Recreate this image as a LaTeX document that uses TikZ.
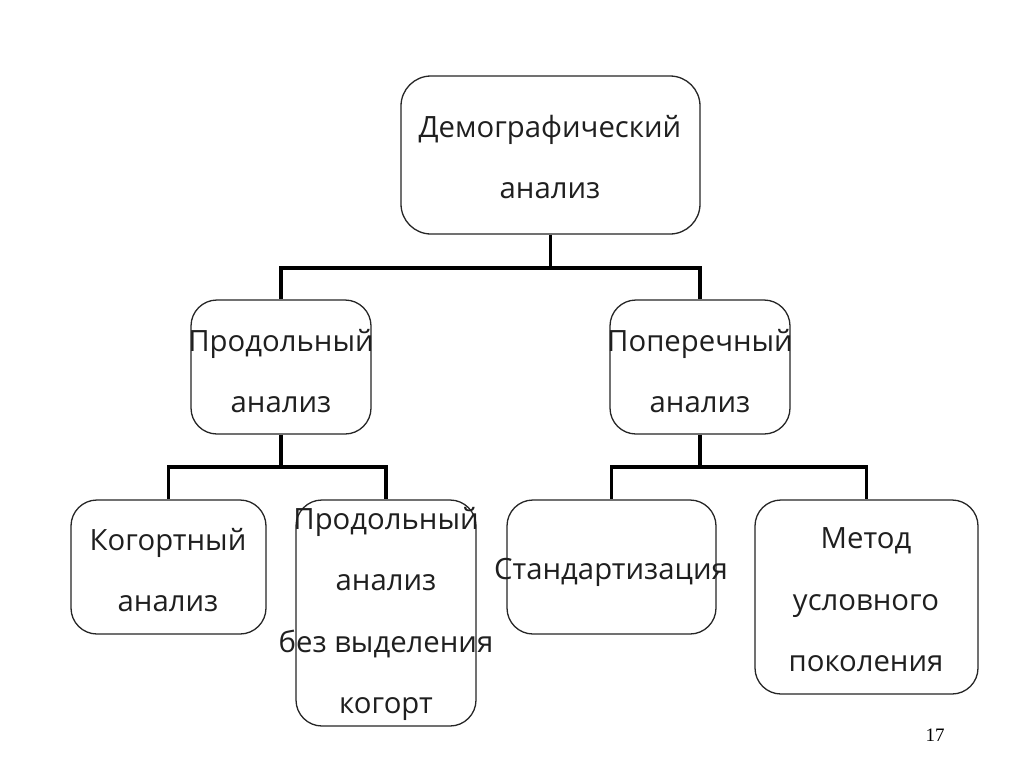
\documentclass[tikz,border=0pt]{standalone}
\usepackage{fontspec}
\setmainfont{Open Sans}
\newfontfamily\numfont{Liberation Serif}
\begin{document}
\begin{tikzpicture}[x=1pt,y=-1pt,
  box/.style={draw=black!85, line width=1.3pt, fill=white, rounded corners=26pt, inner sep=0pt},
  txt/.style={align=center, inner sep=0pt, text=black!88, font=\fontsize{29.3}{61.5}\selectfont},
  conn/.style={line width=3.5pt, black}]
\useasboundingbox[fill=white] (0,0) rectangle (1024,768);
% boxes
\node[box, minimum width=299pt, minimum height=158pt, rounded corners=30pt] (top) at (550.5,155) {};
\node[box, minimum width=180pt, minimum height=134pt] (ml) at (281,367) {};
\node[box, minimum width=180pt, minimum height=134pt] (mr) at (700,367) {};
\node[box, minimum width=195pt, minimum height=134pt] (b1) at (168.5,567) {};
\node[box, minimum width=180pt, minimum height=226pt] (b2) at (386,613) {};
\node[box, minimum width=209pt, minimum height=134pt] (b3) at (611.5,567) {};
\node[box, minimum width=223pt, minimum height=194pt] (b4) at (866.5,597) {};
% connectors
\coordinate (j0) at (550.5,268);
\coordinate (j1) at (281,467);
\coordinate (j2) at (700,467);
\draw[conn] (top.south) -- (j0);
\draw[conn] (j0) -| (ml.north);
\draw[conn] (j0) -| (mr.north);
\draw[conn] (ml.south) -- (j1);
\draw[conn] (j1) -| (b1.north);
\draw[conn] (j1) -| (b2.north);
\draw[conn] (mr.south) -- (j2);
\draw[conn] (j2) -| (b3.north);
\draw[conn] (j2) -| (b4.north);
% texts
\node[txt] (ttop) at (550,157) {Демографический\\анализ};
\node[txt] (tml) at (281,371) {Продольный\\анализ};
\node[txt] (tmr) at (700,371) {Поперечный\\анализ};
\node[txt] (tb1) at (168,570) {Когортный\\анализ};
\node[txt] (tb2) at (386,614) {Продольный\\анализ\\без выделения\\когорт};
\node[txt] (tb3) at (611,572) {Стандартизация};
\node[txt] (tb4) at (866,600) {Метод\\условного\\поколения};
\node[font=\numfont\fontsize{19}{22}\selectfont, inner sep=0pt] (pg) at (935,735) {17};
\end{tikzpicture}
\end{document}
